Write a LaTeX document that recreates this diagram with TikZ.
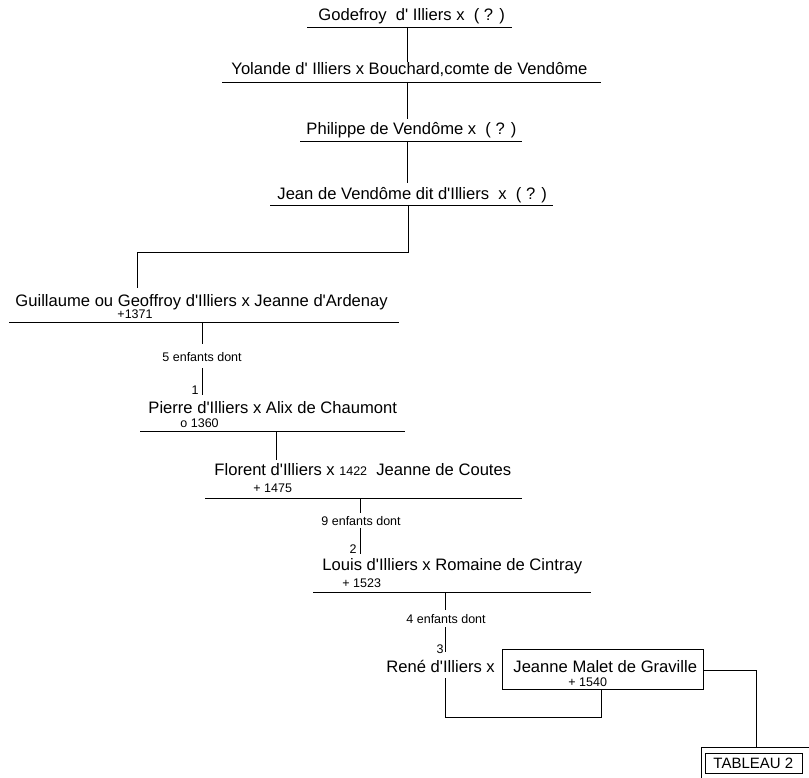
\documentclass[tikz,border=0pt]{standalone}
\usepackage{fontspec}
\setmainfont{Liberation Sans}[Ligatures=TeXOff]
\begin{document}
\begin{tikzpicture}[x=1pt,y=-1pt,line width=0.9pt,
  txt/.style={anchor=base west,inner sep=0pt,font=\fontsize{16.6}{18}\selectfont},
  sm/.style={anchor=base west,inner sep=0pt,font=\fontsize{12.5}{14}\selectfont},
  smr/.style={anchor=base east,inner sep=0pt,font=\fontsize{12.5}{14}\selectfont}]
\useasboundingbox (0,0) rectangle (809,778);

% Generation 1
\node[txt] (godefroy) at (318,21) {Godefroy\ \ d' Illiers x\ \ ( ? )};
\coordinate (l1a) at (307,27); \coordinate (l1b) at (512,27);
\draw (l1a) -- (l1b);
\coordinate (v1a) at (407,27); \coordinate (v1b) at (407,62);
\draw (v1a) -- (v1b);

% Generation 2
\node[txt] (yolande) at (231,75) {Yolande d' Illiers x Bouchard,comte de Vendôme};
\coordinate (l2a) at (222,82); \coordinate (l2b) at (601,82);
\draw (l2a) -- (l2b);
\coordinate (v2a) at (407,82); \coordinate (v2b) at (407,119);
\draw (v2a) -- (v2b);

% Generation 3
\node[txt] (philippe) at (306,135) {Philippe de Vendôme x\ \ ( ? )};
\coordinate (l3a) at (300,141); \coordinate (l3b) at (522,141);
\draw (l3a) -- (l3b);
\coordinate (v3a) at (407,141); \coordinate (v3b) at (407,183);
\draw (v3a) -- (v3b);

% Generation 4
\node[txt] (jean) at (277,200) {Jean de Vendôme dit d'Illiers\ \ x\ \ ( ? )};
\coordinate (l4a) at (270,205); \coordinate (l4b) at (553,205);
\draw (l4a) -- (l4b);
\coordinate (v4a) at (408,205); \coordinate (v4m) at (137,252); \coordinate (v4b) at (137,288);
\draw (v4a) |- (v4m) -- (v4b);

% Generation 5
\node[txt] (guillaume) at (15,306) {Guillaume ou Geoffroy d'Illiers x Jeanne d'Ardenay};
\node[sm] (d1371) at (117,318) {+1371};
\coordinate (l5a) at (9,322); \coordinate (l5b) at (399,322);
\draw (l5a) -- (l5b);
\coordinate (v5a) at (202,322); \coordinate (v5b) at (202,344);
\draw (v5a) -- (v5b);
\node[sm] (enf5) at (162,361) {5 enfants dont};
\coordinate (v5c) at (202,368); \coordinate (v5d) at (202,395);
\draw (v5c) -- (v5d);
\node[smr] (n1) at (199,394) {1};

% Generation 6
\node[txt] (pierre) at (148,413) {Pierre d'Illiers x Alix de Chaumont};
\node[sm] (d1360) at (180,427) {o 1360};
\coordinate (l6a) at (140,431); \coordinate (l6b) at (405,431);
\draw (l6a) -- (l6b);
\coordinate (v6a) at (276,431); \coordinate (v6b) at (276,460);
\draw (v6a) -- (v6b);

% Generation 7
\node[txt] (florent) at (214,475) {Florent d'Illiers x {\fontsize{12.5}{14}\selectfont 1422}\ \ Jeanne de Coutes};
\node[sm] (d1475) at (253,492) {+ 1475};
\coordinate (l7a) at (205,498); \coordinate (l7b) at (522,498);
\draw (l7a) -- (l7b);
\coordinate (v7a) at (360,498); \coordinate (v7b) at (360,513);
\draw (v7a) -- (v7b);
\node[sm] (enf7) at (321,525) {9 enfants dont};
\coordinate (v7c) at (360,528); \coordinate (v7d) at (360,554);
\draw (v7c) -- (v7d);
\node[smr] (n2) at (357,553) {2};

% Generation 8
\node[txt] (louis) at (322,570) {Louis d'Illiers x Romaine de Cintray};
\node[sm] (d1523) at (342,587) {+ 1523};
\coordinate (l8a) at (313,592); \coordinate (l8b) at (591,592);
\draw (l8a) -- (l8b);
\coordinate (v8a) at (445,592); \coordinate (v8b) at (445,610);
\draw (v8a) -- (v8b);
\node[sm] (enf8) at (406,623) {4 enfants dont};
\coordinate (v8c) at (445,627); \coordinate (v8d) at (445,652);
\draw (v8c) -- (v8d);
\node[smr] (n3) at (444,653) {3};

% Generation 9
\node[txt] (rene) at (386,672) {René d'Illiers x};
\node[draw,inner sep=0pt,minimum width=201pt,minimum height=40pt,anchor=north west] (jmbox) at (502,649) {};
\node[txt] (jeanne) at (513,672) {Jeanne Malet de Graville};
\node[sm] (d1540) at (568,686) {+ 1540};
\coordinate (r1) at (445,678); \coordinate (r2) at (601,717);
\draw (r1) |- (r2) -- (jmbox.south -| r2);

% Link to Tableau 2
\coordinate (t1) at (756,670);
\node[draw,inner sep=0pt,minimum width=108pt,minimum height=40pt,anchor=north west] (tabouter) at (701,747) {};
\node[draw,inner sep=0pt,minimum width=97pt,minimum height=20pt,anchor=north west] (tabinner) at (705,753) {};
\node[anchor=base west,inner sep=0pt,font=\fontsize{15}{17}\selectfont] (tab) at (713,768) {TABLEAU 2};
\draw (jmbox.east |- t1) -- (t1) -- (t1 |- tabouter.north);
\end{tikzpicture}
\end{document}
